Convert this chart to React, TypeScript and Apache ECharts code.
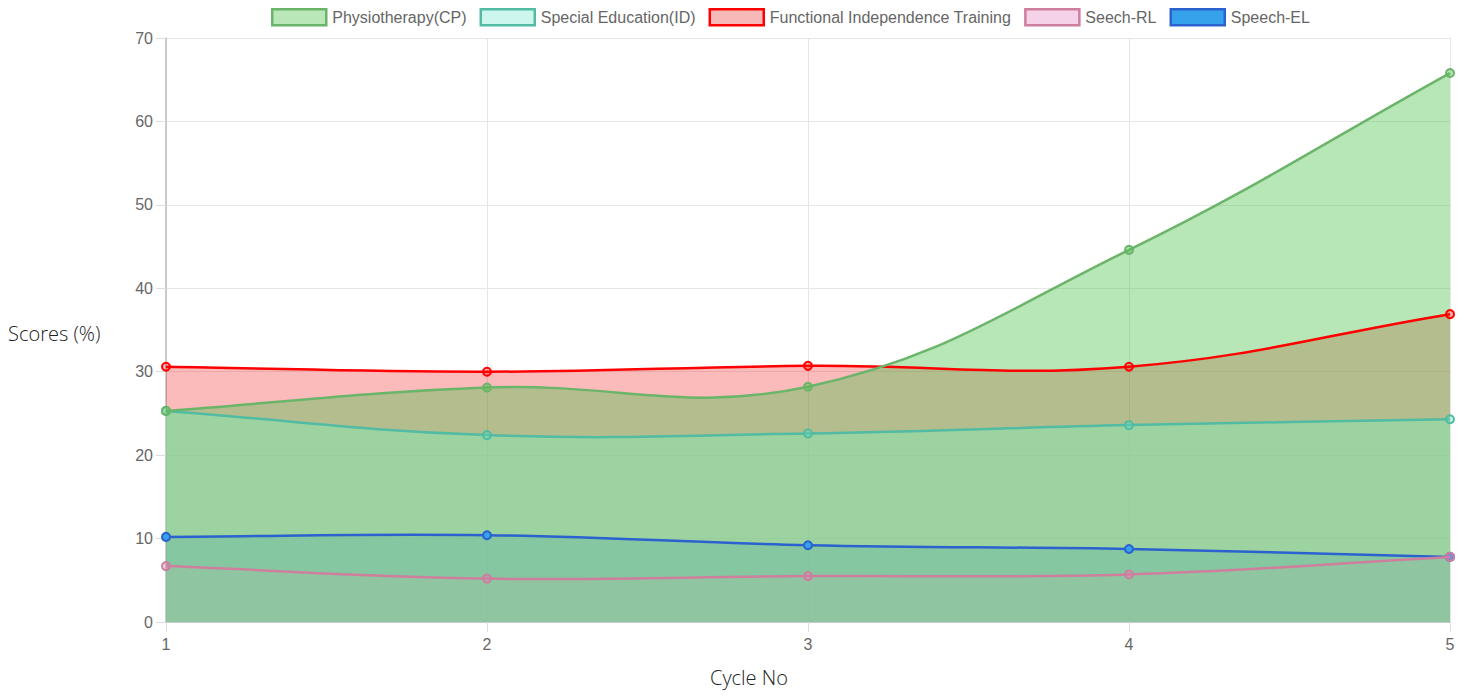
import React, { useEffect, useRef } from "react";
import * as echarts from "echarts";

const cycles = ["1", "2", "3", "4", "5"];
const physiotherapy = [25.3, 28.1, 28.2, 44.6, 65.8];
const specialEducation = [25.3, 22.4, 22.6, 23.6, 24.3];
const functionalIndependence = [30.6, 30.0, 30.7, 30.6, 36.9];
const seechRL = [6.7, 5.2, 5.5, 5.7, 7.8];
const speechEL = [10.2, 10.4, 9.2, 8.75, 7.8];
const yTicks = [0, 10, 20, 30, 40, 50, 60, 70];

type Def = {
  name: string;
  data: number[];
  line: string;
  point: string;
  area: string;
  legendFill: string;
};

const defs: Def[] = [
  { name: "Physiotherapy(CP)", data: physiotherapy, line: "#6bb56a", point: "rgba(75,192,75,0.4)", area: "rgba(75,192,75,0.4)", legendFill: "#b9e7b8" },
  { name: "Special Education(ID)", data: specialEducation, line: "#52bba3", point: "rgba(90,225,200,0.3)", area: "rgba(187,249,236,0.6)", legendFill: "#cdf6ef" },
  { name: "Functional Independence Training", data: functionalIndependence, line: "#ff0000", point: "rgba(255,0,0,0.28)", area: "rgba(240,10,10,0.28)", legendFill: "#f7b8b8" },
  { name: "Seech-RL", data: seechRL, line: "#cf7f9e", point: "rgba(225,120,175,0.35)", area: "rgba(235,200,222,0.3)", legendFill: "#f6d2e8" },
  { name: "Speech-EL", data: speechEL, line: "#2b62cf", point: "#36a2eb", area: "rgba(60,150,220,0.28)", legendFill: "#36a2eb" },
];

// draw order of fills (bottom to top) and of lines (bottom to top)
const areaOrder = ["Functional Independence Training", "Special Education(ID)", "Speech-EL", "Seech-RL", "Physiotherapy(CP)"];
const lineOrder = ["Speech-EL", "Seech-RL", "Functional Independence Training", "Special Education(ID)", "Physiotherapy(CP)"];

const TENSION = 0.4;

function splinePath(pts: number[][]): string {
  const n = pts.length;
  const cps: { prev: number[]; next: number[] }[] = [];
  for (let i = 0; i < n; i++) {
    const cur = pts[i];
    const prev = i > 0 ? pts[i - 1] : cur;
    const next = i < n - 1 ? pts[i + 1] : cur;
    const d01 = Math.hypot(cur[0] - prev[0], cur[1] - prev[1]);
    const d12 = Math.hypot(next[0] - cur[0], next[1] - cur[1]);
    let s01 = d01 / (d01 + d12);
    let s12 = d12 / (d01 + d12);
    if (!isFinite(s01)) s01 = 0;
    if (!isFinite(s12)) s12 = 0;
    const fa = TENSION * s01;
    const fb = TENSION * s12;
    cps.push({
      prev: [cur[0] - fa * (next[0] - prev[0]), cur[1] - fa * (next[1] - prev[1])],
      next: [cur[0] + fb * (next[0] - prev[0]), cur[1] + fb * (next[1] - prev[1])],
    });
  }
  let d = `M${pts[0][0]},${pts[0][1]}`;
  for (let i = 1; i < n; i++) {
    const a = cps[i - 1].next;
    const b = cps[i].prev;
    d += ` C${a[0]},${a[1]} ${b[0]},${b[1]} ${pts[i][0]},${pts[i][1]}`;
  }
  return d;
}

export default function App() {
  const ref = useRef<HTMLDivElement>(null);
  useEffect(() => {
    if (!ref.current) return;
    const chart = echarts.init(ref.current, null, { renderer: "svg" });
    const byName = (n: string) => defs.find((d) => d.name === n)!;

    const areaSeries = areaOrder.map((n) => {
      const d = byName(n);
      return {
        name: d.name,
        type: "custom",
        coordinateSystem: "cartesian2d",
        data: d.data.map((v, i) => [i, v]),
        encode: { x: 0, y: 1 },
        z: 1,
        silent: true,
        renderItem: (params: any, api: any) => {
          if (params.dataIndex !== 0) return null;
          const pts = d.data.map((v, i) => api.coord([i, v]));
          const base = api.coord([0, 0])[1];
          const last = pts[pts.length - 1];
          const pathData =
            splinePath(pts) + ` L${last[0]},${base} L${pts[0][0]},${base} Z`;
          return {
            type: "path",
            shape: { pathData },
            style: { fill: d.area, stroke: "none" },
          };
        },
      };
    });

    const lineSeries = lineOrder.map((n) => {
      const d = byName(n);
      return {
        name: d.name,
        type: "custom",
        coordinateSystem: "cartesian2d",
        data: d.data.map((v, i) => [i, v]),
        encode: { x: 0, y: 1 },
        z: 5,
        silent: true,
        renderItem: (params: any, api: any) => {
          if (params.dataIndex !== 0) return null;
          const pts = d.data.map((v, i) => api.coord([i, v]));
          const children: any[] = [
            {
              type: "path",
              shape: { pathData: splinePath(pts) },
              style: { fill: "none", stroke: d.line, lineWidth: 2.5 },
            },
          ];
          pts.forEach((p: number[]) => {
            children.push({
              type: "circle",
              shape: { cx: p[0], cy: p[1], r: 4 },
              style: { fill: d.point, stroke: d.line, lineWidth: 2 },
            });
          });
          return { type: "group", children };
        },
      };
    });

    chart.setOption({
      animation: false,
      backgroundColor: "#ffffff",
      grid: { left: 166, right: 16, top: 38, bottom: 75, containLabel: false },
      legend: {
        left: 271,
        top: 8,
        padding: 0,
        itemWidth: 54,
        itemHeight: 16,
        itemGap: 13,
        icon: "rect",
        textStyle: { fontFamily: "Liberation Sans, Arial", fontSize: 16, color: "#666", padding: [0, 0, 0, 1] },
        data: defs.map((d) => ({
          name: d.name,
          icon: "rect",
          itemStyle: { color: d.legendFill, borderColor: d.line, borderWidth: 2.5 },
        })),
      },
      xAxis: {
        type: "category",
        data: cycles,
        boundaryGap: false,
        axisLine: { show: true, lineStyle: { color: "#c8c8c8", width: 1 } },
        axisTick: { show: true, length: 10, lineStyle: { color: "#dddddd" } },
        axisLabel: { color: "#666", fontSize: 16, fontFamily: "Liberation Sans, Arial", margin: 14 },
        splitLine: { show: true, lineStyle: { color: "#e6e6e6", width: 1 } },
      },
      yAxis: {
        type: "value",
        min: yTicks[0],
        max: yTicks[yTicks.length - 1],
        interval: 10,
        axisLine: { show: true, lineStyle: { color: "#bdbdbd", width: 1.5 } },
        axisTick: { show: true, length: 10, lineStyle: { color: "#dddddd" } },
        axisLabel: { color: "#666", fontSize: 16, fontFamily: "Liberation Sans, Arial", margin: 13 },
        splitLine: { show: true, lineStyle: { color: "#e6e6e6", width: 1 } },
      },
      graphic: [
        {
          type: "text",
          left: 8,
          top: 323,
          style: { text: "Scores (%)", font: "300 20px 'Open Sans', sans-serif", fill: "#222" },
        },
        {
          type: "text",
          left: 710,
          top: 667,
          style: { text: "Cycle No", font: "300 20px 'Open Sans', sans-serif", fill: "#222" },
        },
      ],
      series: [...areaSeries, ...lineSeries],
    });
    return () => chart.dispose();
  }, []);
  return (
    <div
      ref={ref}
      style={{ position: "fixed", left: 0, top: 0, width: 1466, height: 697 }}
    />
  );
}
